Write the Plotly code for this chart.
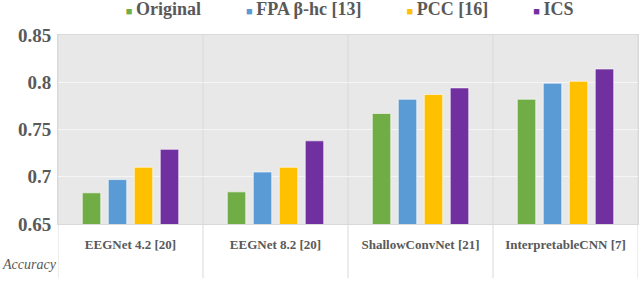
import plotly.graph_objects as go

categories = ["EEGNet 4.2 [20]", "EEGNet 8.2 [20]", "ShallowConvNet [21]", "InterpretableCNN [7]"]
series_names = ["Original", "FPA β-hc [13]", "PCC [16]", "ICS"]
original = [0.683, 0.684, 0.767, 0.782]
fpa = [0.697, 0.705, 0.782, 0.799]
pcc = [0.710, 0.710, 0.787, 0.801]
ics = [0.729, 0.738, 0.794, 0.814]
colors = ["#70AD47", "#5B9BD5", "#FFC000", "#7030A0"]
y_ticks = [0.65, 0.7, 0.75, 0.8, 0.85]

font_family = "Liberation Serif"
gray = "#595959"
grid = "#D9D9D9"

fig = go.Figure()
for name, vals, col in zip(series_names, [original, fpa, pcc, ics], colors):
    fig.add_trace(go.Bar(
        x=categories, y=vals, name=name, showlegend=False,
        marker=dict(color=col, line=dict(color="rgba(255,255,255,0.6)", width=1)),
    ))
# legend entries: small coloured square glyph right before the text
for name, col in zip(series_names, colors):
    fig.add_trace(go.Scatter(
        x=[None], y=[None], mode="markers",
        name=f"<span style='color:{col};font-size:11px'>■</span>\u2009{name}",
        marker=dict(symbol="square", size=1, color="rgba(0,0,0,0)"),
    ))

# category boundary lines extending below axis (table-like)
bounds = [i - 0.5 for i in range(len(categories) + 1)]
for b in bounds:
    fig.add_shape(type="line", xref="x", yref="paper", x0=b, x1=b, y0=-0.286, y1=1,
                  line=dict(color=grid, width=1), layer="below")

fig.add_annotation(text="<i>Accuracy</i>", xref="paper", yref="paper",
                   x=0.002, y=-0.215, xanchor="right", yanchor="middle",
                   showarrow=False, font=dict(family=font_family, size=14, color=gray))

fig.update_layout(
    width=640, height=281,
    margin=dict(l=58, r=2, t=35, b=57, autoexpand=False),
    barmode="group", bargap=0.283, bargroupgap=0.29,
    plot_bgcolor="#E8E8E8", paper_bgcolor="white",
    legend=dict(orientation="h", x=0.473, xanchor="center", y=1.24, yanchor="top",
                font=dict(family=font_family, size=18, color=gray, weight="bold"),
                itemwidth=30, tracegroupgap=0, bgcolor="rgba(0,0,0,0)"),
    font=dict(family=font_family, color=gray),
)
fig.update_xaxes(
    tickfont=dict(family=font_family, size=13, color=gray, weight="bold"),
    showgrid=False, showline=True, linecolor=grid, mirror=True,
    ticks="", ticklabelstandoff=8,
    range=[-0.5, len(categories) - 0.5],
)
fig.update_yaxes(
    range=[0.65, 0.85], tickvals=y_ticks, ticktext=[f"{v:g}" for v in y_ticks],
    tickfont=dict(family=font_family, size=19, color=gray, weight="bold"),
    showgrid=True, gridcolor="#F5F5F5", gridwidth=1,
    showline=True, linecolor=grid, mirror=True, zeroline=False,
    ticklabelstandoff=2,
)
fig.write_html("out.html", config={"displayModeBar": False},
               post_script="document.body.style.margin='0';")
